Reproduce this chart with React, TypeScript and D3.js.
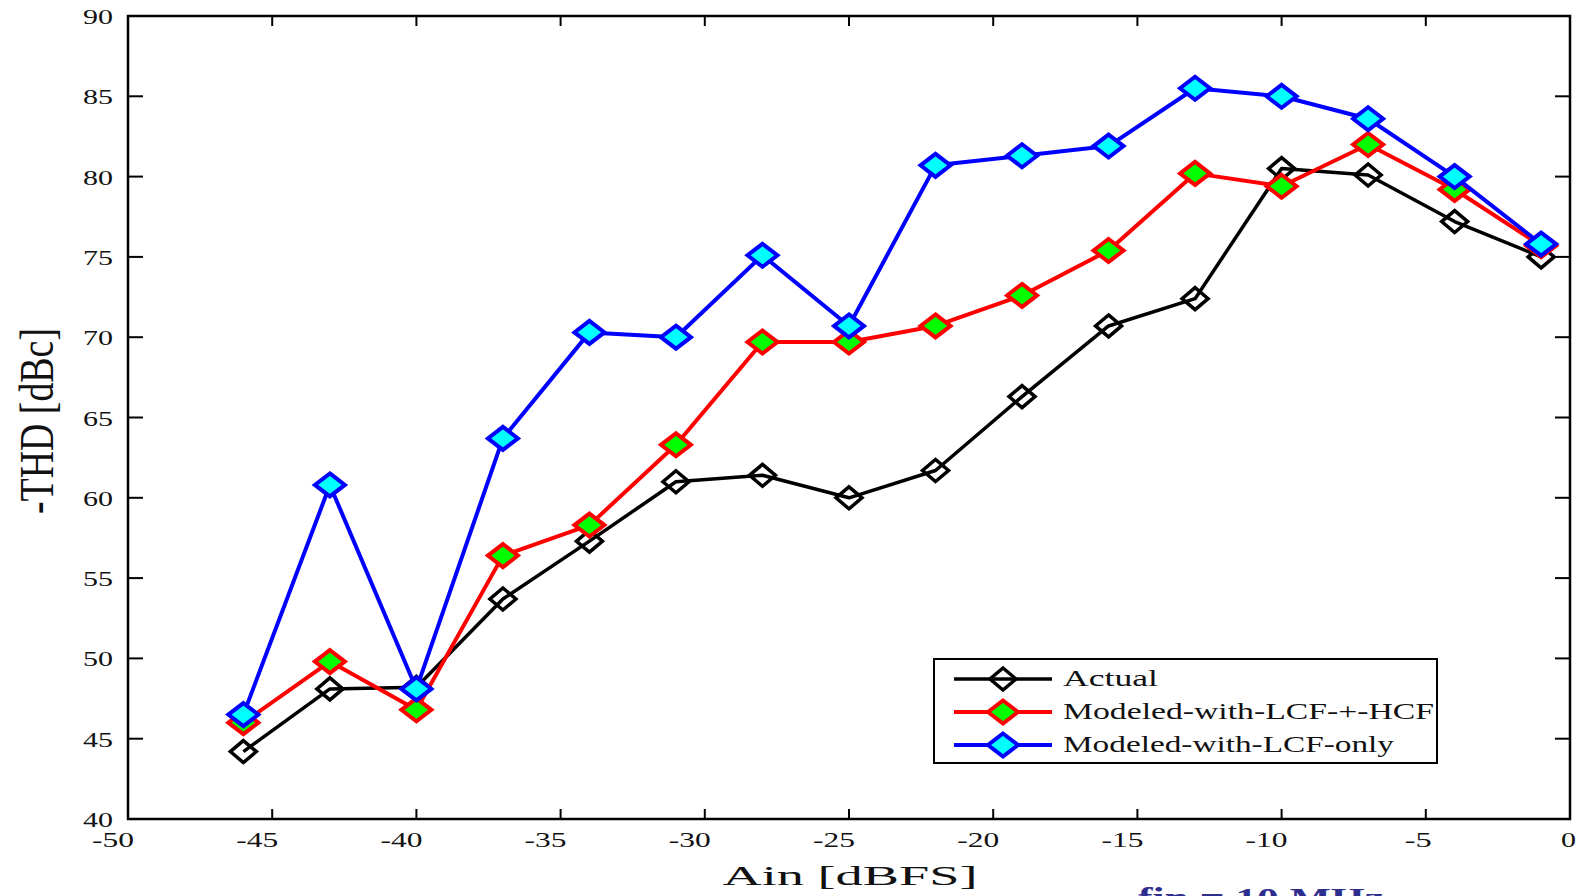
import React from "react";
import * as d3 from "d3";

const ainDbfs = [-46, -43, -40, -37, -34, -31, -28, -25, -22, -19, -16, -13, -10, -7, -4, -1];
const actual = [44.2, 48.1, 48.2, 53.7, 57.3, 61.0, 61.4, 60.0, 61.7, 66.3, 70.7, 72.4, 80.5, 80.1, 77.2, 75.0];
const modeledLcfHcf = [46.0, 49.8, 46.8, 56.4, 58.3, 63.3, 69.7, 69.7, 70.7, 72.6, 75.4, 80.2, 79.4, 82.0, 79.2, 75.7];
const modeledLcfOnly = [46.5, 60.8, 48.1, 63.7, 70.3, 70.0, 75.1, 70.7, 80.7, 81.3, 81.9, 85.5, 85.0, 83.6, 80.0, 75.8];
const xTicks = [-50, -45, -40, -35, -30, -25, -20, -15, -10, -5, 0];
const yTicks = [40, 45, 50, 55, 60, 65, 70, 75, 80, 85, 90];
const seriesNames = ["Actual", "Modeled-with-LCF-+-HCF", "Modeled-with-LCF-only"];

const W = 1585;
const H = 896;
const L = 128, R = 1570, T = 16, B = 819;
const FONT = "'Liberation Serif', 'DejaVu Serif', serif";

const x = d3.scaleLinear().domain([-50, 0]).range([L, R]);
const y = d3.scaleLinear().domain([40, 90]).range([B, T]);

const styles = [
  { stroke: "#000000", fill: "none", lw: 3.5, hw: 13, hh: 11, mw: 3.5, legendLen: 95 },
  { stroke: "#ff0000", fill: "#00ff00", lw: 4, hw: 15, hh: 11.5, mw: 4, legendLen: 371 },
  { stroke: "#0000ff", fill: "#00ffff", lw: 4, hw: 15, hh: 11.5, mw: 4, legendLen: 331 },
];
const seriesData = [actual, modeledLcfHcf, modeledLcfOnly];

function diamond(cx: number, cy: number, hw: number, hh: number) {
  return `M${cx},${cy - hh}L${cx + hw},${cy}L${cx},${cy + hh}L${cx - hw},${cy}Z`;
}

function labelLen(s: string) {
  let n = 0;
  for (const c of s) n += c === "-" ? 12 : 15;
  return n;
}

export default function App() {
  React.useEffect(() => {
    document.body.style.margin = "0";
  }, []);
  const line = d3
    .line<[number, number]>()
    .x((d) => x(d[0]))
    .y((d) => y(d[1]));

  return (
    <svg
      width={W}
      height={H}
      style={{ position: "absolute", left: 0, top: 0, background: "#fff" }}
      xmlns="http://www.w3.org/2000/svg"
    >
      <rect x={0} y={0} width={W} height={H} fill="#fff" />
      {xTicks.map((t) => (
        <g key={"xt" + t}>
          <line x1={x(t)} x2={x(t)} y1={B} y2={B - 10} stroke="#000" strokeWidth={2} />
          <line x1={x(t)} x2={x(t)} y1={T} y2={T + 10} stroke="#000" strokeWidth={2} />
          <text
            x={x(t) + 6}
            y={847}
            textAnchor="end"
            fontFamily={FONT}
            fontSize={22}
            textLength={labelLen(String(t))}
            lengthAdjust="spacingAndGlyphs"
            fill="#111"
          >
            {String(t)}
          </text>
        </g>
      ))}
      {yTicks.map((t) => (
        <g key={"yt" + t}>
          <line x1={L} x2={L + 15} y1={y(t)} y2={y(t)} stroke="#000" strokeWidth={2} />
          <line x1={R} x2={R - 15} y1={y(t)} y2={y(t)} stroke="#000" strokeWidth={2} />
          <text
            x={113}
            y={y(t) + 8}
            textAnchor="end"
            fontFamily={FONT}
            fontSize={22}
            textLength={labelLen(String(t))}
            lengthAdjust="spacingAndGlyphs"
            fill="#111"
          >
            {String(t)}
          </text>
        </g>
      ))}
      <rect x={L} y={T} width={R - L} height={B - T} fill="none" stroke="#000" strokeWidth={2.5} />

      {seriesData.map((vals, i) => {
        const st = styles[i];
        const pts = ainDbfs.map((a, j) => [a, vals[j]] as [number, number]);
        return (
          <g key={"s" + i}>
            <path d={line(pts) || ""} fill="none" stroke={st.stroke} strokeWidth={st.lw} strokeLinejoin="round" />
            {pts.map((p, j) => (
              <path
                key={j}
                d={diamond(x(p[0]), y(p[1]), st.hw, st.hh)}
                fill={st.fill}
                stroke={st.stroke}
                strokeWidth={st.mw}
              />
            ))}
          </g>
        );
      })}

      <rect x={934} y={659} width={503} height={104} fill="#fff" stroke="#000" strokeWidth={2} />
      {seriesNames.map((name, i) => {
        const st = styles[i];
        const ly = 679 + i * 33;
        return (
          <g key={"lg" + i}>
            <line x1={954} x2={1052} y1={ly} y2={ly} stroke={st.stroke} strokeWidth={st.lw} />
            <path d={diamond(1003, ly, st.hw, st.hh)} fill={st.fill} stroke={st.stroke} strokeWidth={st.mw} />
            <text
              x={1063}
              y={ly + 7}
              fontFamily={FONT}
              fontSize={24}
              textLength={st.legendLen}
              lengthAdjust="spacingAndGlyphs"
              fill="#111"
            >
              {name}
            </text>
          </g>
        );
      })}

      <text
        x={850}
        y={885}
        textAnchor="middle"
        fontFamily={FONT}
        fontSize={27}
        textLength={255}
        lengthAdjust="spacingAndGlyphs"
        fill="#111"
      >
        Ain [dBFS]
      </text>
      <text
        transform="translate(53,421) scale(1.3,1) rotate(-90)"
        textAnchor="middle"
        fontFamily={FONT}
        fontSize={37}
        textLength={186}
        lengthAdjust="spacingAndGlyphs"
        fill="#111"
      >
        -THD [dBc]
      </text>

      <text
        x={1138}
        y={908}
        fontFamily={FONT}
        fontSize={30}
        fontWeight="bold"
        textLength={246}
        lengthAdjust="spacingAndGlyphs"
        fill="#2e2e8f"
      >
        fin = 10 MHz
      </text>
    </svg>
  );
}
